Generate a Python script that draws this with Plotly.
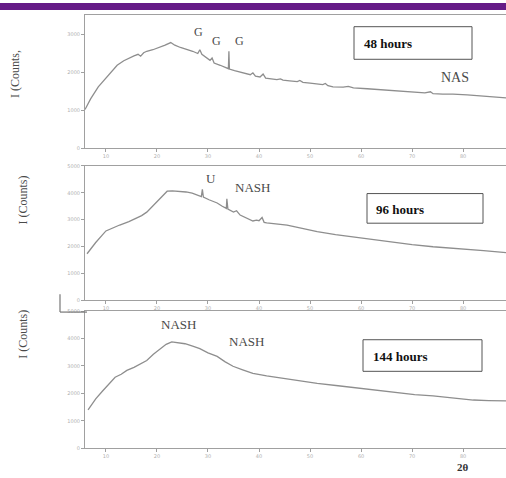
import plotly.graph_objects as go

W, H = 506, 478

# ---- data (2-theta, counts) ----
tt_48 = [5.9, 7.0, 8.5, 10.2, 11.2, 12.2, 13.5, 14.7, 15.5, 16.3, 16.8, 17.4, 18.0, 19.2, 20.6, 21.6,
         22.7, 23.5, 24.6, 25.9, 27.0, 28.0, 28.4, 28.8, 29.6, 30.4, 30.8, 31.2, 32.4, 33.4, 34.0, 34.1,
         34.2, 35.2, 36.3, 37.5, 38.3, 38.8, 39.3, 40.2, 40.8, 41.3, 42.5, 43.5, 44.2, 44.7, 46.0, 47.5,
         48.0, 48.6, 50.0, 51.4, 52.5, 53.0, 53.5, 54.5, 56.5, 57.5, 58.5, 61.2, 64.0, 67.6, 70.5, 72.5,
         73.6, 74.1, 76.0, 78.0, 80.8, 84.0, 86.0, 88.4]
i_48 = [1020, 1300, 1620, 1880, 2060, 2190, 2310, 2400, 2440, 2480, 2430, 2520, 2560, 2600, 2660, 2720,
        2790, 2720, 2660, 2610, 2560, 2500, 2600, 2480, 2400, 2320, 2380, 2250, 2190, 2130, 2100, 2560,
        2090, 2050, 2010, 1960, 1940, 1990, 1900, 1880, 1960, 1850, 1830, 1810, 1830, 1800, 1780, 1760,
        1790, 1740, 1720, 1700, 1680, 1710, 1650, 1620, 1610, 1630, 1590, 1570, 1540, 1510, 1480, 1460,
        1490, 1440, 1430, 1430, 1410, 1380, 1350, 1330]

tt_96 = [6.3, 8.0, 10.0, 11.3, 12.7, 14.5, 16.1, 17.0, 18.0, 19.5, 21.0, 22.0, 23.0, 24.5, 25.7, 26.9,
         28.0, 28.7, 28.9, 29.1, 30.2, 31.0, 31.8, 32.8, 33.6, 33.7, 33.9, 35.0, 35.6, 36.3, 37.2, 38.0,
         38.8, 39.5, 40.0, 40.6, 41.0, 41.5, 43.0, 45.5, 48.0, 51.4, 55.0, 59.8, 63.0, 67.6, 70.0, 74.1,
         77.0, 80.8, 84.0, 88.4]
i_96 = [1730, 2150, 2580, 2700, 2800, 2930, 3060, 3150, 3280, 3560, 3860, 4060, 4070, 4060, 4030, 3990,
        3920, 3860, 4130, 3840, 3740, 3680, 3620, 3500, 3420, 3780, 3390, 3280, 3330, 3170, 3100, 3020,
        2950, 2980, 2960, 3080, 2900, 2880, 2840, 2800, 2690, 2550, 2440, 2320, 2230, 2140, 2070, 1990,
        1950, 1920, 1850, 1770]

tt_144 = [6.5, 8.0, 9.3, 10.2, 11.0, 11.8, 13.0, 14.1, 15.5, 16.5, 18.0, 19.3, 20.6, 21.8, 22.9, 24.0,
          25.5, 27.0, 28.4, 30.0, 31.8, 33.3, 34.9, 36.8, 38.8, 41.5, 44.7, 48.0, 51.4, 55.5, 59.8, 63.5,
          67.6, 70.5, 74.1, 78.0, 82.0, 85.0, 88.4]
i_144 = [1400, 1800, 2080, 2270, 2450, 2590, 2700, 2840, 2950, 3060, 3200, 3430, 3630, 3790, 3880, 3840,
         3810, 3720, 3630, 3480, 3350, 3160, 2990, 2860, 2730, 2640, 2550, 2460, 2370, 2280, 2190, 2100,
         2010, 1960, 1910, 1840, 1760, 1740, 1730]

x_ticks = [10, 20, 30, 40, 50, 60, 70, 80]
x_tick_labels = ["10", "20", "30", "40", "50", "60", "70", "80"]
y_ticks_48 = [0, 1000, 2000, 3000]
y_ticks_other = [0, 1000, 2000, 3000, 4000, 5000]
panel_titles = ["48 hours", "96 hours", "144 hours"]


def px(x, y):
    return x / W, 1 - y / H


fig = go.Figure()
LINE = dict(color="#8e8e8e", width=1.3)
fig.add_trace(go.Scatter(x=tt_48, y=i_48, mode="lines", line=LINE, xaxis="x", yaxis="y", hoverinfo="skip"))
fig.add_trace(go.Scatter(x=tt_96, y=i_96, mode="lines", line=LINE, xaxis="x2", yaxis="y2", hoverinfo="skip"))
fig.add_trace(go.Scatter(x=tt_144, y=i_144, mode="lines", line=LINE, xaxis="x3", yaxis="y3", hoverinfo="skip"))

xdom = [85 / W, 1.0]
xr = [5.9, 88.4]
TICKF = dict(family="DejaVu Sans", size=5, color="#b0b0b0")
common_x = dict(domain=xdom, range=xr, tickvals=x_ticks, ticktext=x_tick_labels, showgrid=False,
                zeroline=False, showline=True, linecolor="#a0a0a0", linewidth=1, mirror=True,
                ticks="outside", ticklen=3, tickcolor="#a0a0a0", tickfont=TICKF)
common_y = dict(showgrid=False, zeroline=False, showline=True, linecolor="#a0a0a0", linewidth=1,
                ticks="outside", ticklen=3, tickcolor="#a0a0a0", tickfont=TICKF)

fig.update_layout(
    width=W, height=H, margin=dict(l=0, r=0, t=0, b=0),
    paper_bgcolor="white", plot_bgcolor="white", showlegend=False,
    xaxis=dict(common_x, anchor="y"),
    xaxis2=dict(common_x, anchor="y2"),
    xaxis3=dict(common_x, anchor="y3"),
    yaxis=dict(common_y, domain=[1 - 147 / H, 1 - 12 / H], range=[0, 3522], tickvals=y_ticks_48, anchor="x"),
    yaxis2=dict(common_y, domain=[1 - 301 / H, 1 - 165 / H], range=[0, 5000], tickvals=y_ticks_other, anchor="x2"),
    yaxis3=dict(common_y, domain=[1 - 451 / H, 1 - 312 / H], range=[0, 5000], tickvals=y_ticks_other, anchor="x3"),
)

shapes = []
# purple header bar
shapes.append(dict(type="rect", xref="paper", yref="paper", x0=0, x1=1, y0=1 - 7 / H, y1=1,
                   fillcolor="#651b87", line=dict(width=0)))
# boxes
for (x0, y0, x1, y1) in [(354, 24, 472, 57), (367, 193, 483, 223), (363, 341, 482, 373)]:
    a0 = px(x0, y1)
    a1 = px(x1, y0)
    shapes.append(dict(type="rect", xref="paper", yref="paper", x0=a0[0], y0=a0[1], x1=a1[0], y1=a1[1],
                       fillcolor="white", line=dict(color="#555555", width=1)))
# bracket near the left between panels 2 and 3
for (x0, y0, x1, y1) in [(60, 295, 60, 313), (60, 313, 87, 313)]:
    a0 = px(x0, y0)
    a1 = px(x1, y1)
    shapes.append(dict(type="line", xref="paper", yref="paper", x0=a0[0], y0=a0[1], x1=a1[0], y1=a1[1],
                       line=dict(color="#777777", width=1.2)))
fig.update_layout(shapes=shapes)

SERIF = "Liberation Serif"
ann = []


def add_text(t, x, y, size=12, color="#4a4a4a", bold=False, angle=0, bg=None, xanchor="center"):
    p = px(x, y)
    d = dict(text=("<b>%s</b>" % t) if bold else t, x=p[0], y=p[1], xref="paper", yref="paper",
             showarrow=False, font=dict(family=SERIF, size=size, color=color), textangle=angle,
             xanchor=xanchor, yanchor="middle")
    if bg:
        d["bgcolor"] = bg
    ann.append(d)


add_text("G", 198, 29, 12)
add_text("G", 216, 38, 12)
add_text("G", 239, 38, 12)
add_text("NAS", 455, 75, 14)
add_text("U", 211, 178, 13)
add_text("NASH", 252, 187, 13)
add_text("NASH", 178, 326, 13, bg="white")
add_text("NASH", 246, 343, 13)

add_text(panel_titles[0], 362, 41, 13, color="#111111", bold=True, xanchor="left")
add_text(panel_titles[1], 374, 209, 13, color="#111111", bold=True, xanchor="left")
add_text(panel_titles[2], 371, 358, 13, color="#111111", bold=True, xanchor="left")

add_text("I (Counts,", 15, 72, 12, angle=-90)
add_text("I (Counts)", 23, 200, 12, angle=-90)
add_text("I (Counts)", 23, 336, 12, angle=-90)
add_text("2θ", 463, 470, 11, color="#333333", bold=True)

fig.update_layout(annotations=ann)
fig.write_html("out.html", config={"displayModeBar": False},
               post_script="document.body.style.margin='0';document.body.style.padding='0';"
                           "document.body.style.overflow='hidden';")
